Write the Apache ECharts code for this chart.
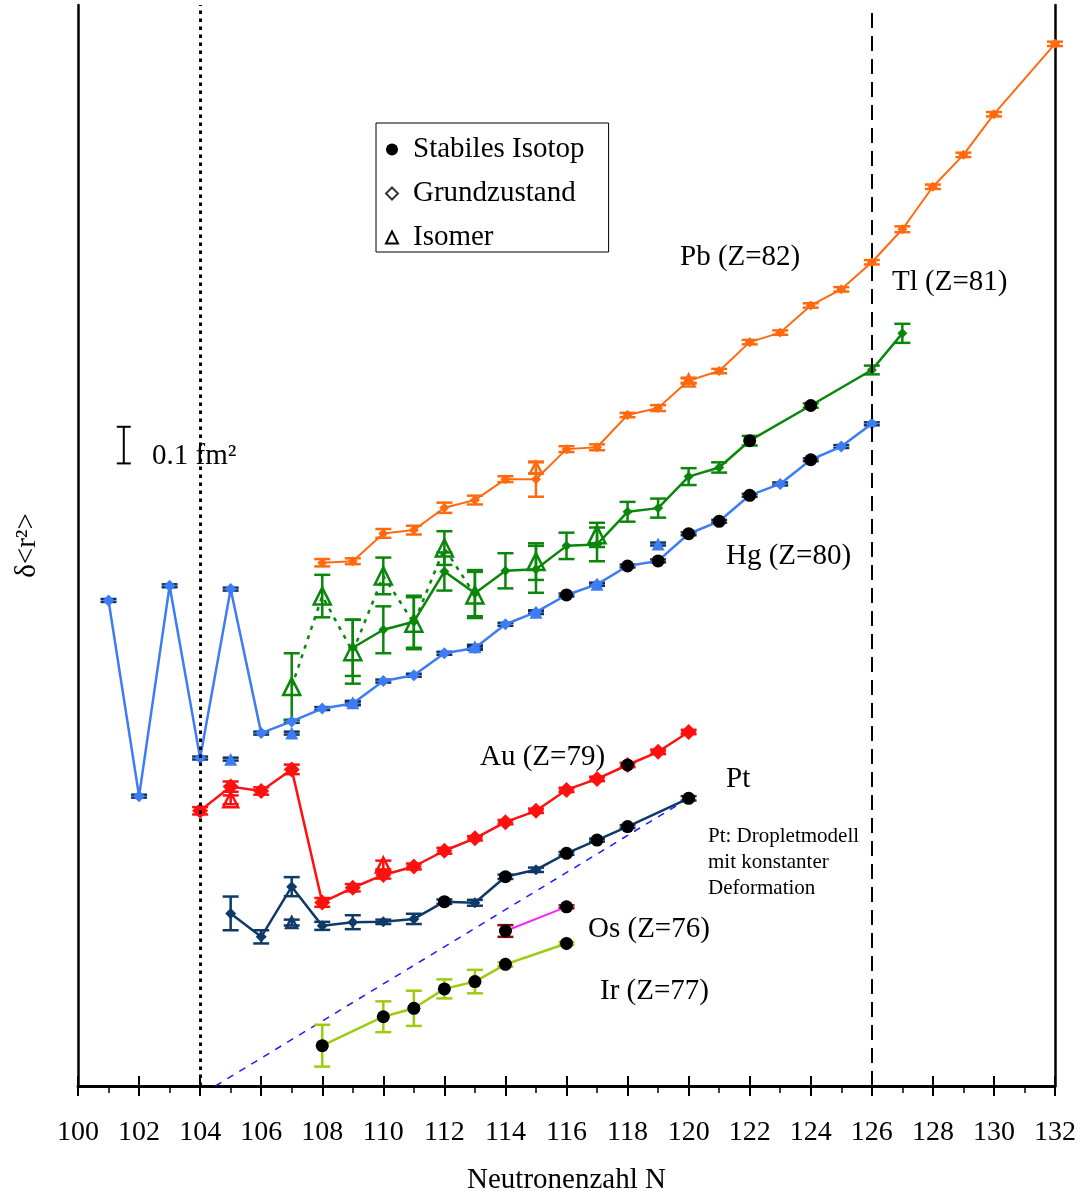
<!DOCTYPE html>
<html>
<head>
<meta charset="utf-8">
<script src="https://cdn.jsdelivr.net/npm/echarts@6/dist/echarts.min.js"></script>
<style>
  html, body { margin: 0; padding: 0; background: #fff; }
  #chart { width: 1080px; height: 1191px; }
</style>
</head>
<body>
<div id="chart"></div>
<script>
// Isotope shifts of the mean square charge radius, delta<r^2> in fm^2
// (each chain shifted by an arbitrary offset), versus neutron number N.

// ---- Hg (Z=80) ----
const hgN   = [101, 102, 103, 104, 105, 106, 107, 108, 109, 110, 111, 112, 113, 114, 115, 116, 117, 118, 119, 120, 121, 122, 123, 124, 125, 126];
const hgV   = [1.325, 0.791, 1.365, 0.895, 1.356, 0.963, 0.995, 1.030, 1.044, 1.105, 1.121, 1.181, 1.195, 1.260, 1.293, 1.340, 1.369, 1.419, 1.433, 1.507, 1.541, 1.612, 1.643, 1.709, 1.745, 1.807];
const hgErr = [0.004, 0.004, 0.004, 0.004, 0.004, 0.004, 0.004, 0.004, 0.005, 0.004, 0.004, 0.004, 0.005, 0.004, 0.005, 0.004, 0.004, 0.004, 0.004, 0.004, 0.004, 0.004, 0.004, 0.004, 0.004, 0.004];
const hgStable = [116, 118, 119, 120, 121, 122, 124];
const hgIsoN   = [105, 107, 109, 113, 115, 117, 119];
const hgIsoV   = [0.892, 0.963, 1.046, 1.199, 1.293, 1.369, 1.479];
const hgIsoErr = [0.004, 0.004, 0.005, 0.005, 0.004, 0.004, 0.004];

// ---- Pb (Z=82) ----
const pbN   = [108, 109, 110, 111, 112, 113, 114, 115, 116, 117, 118, 119, 120, 121, 122, 123, 124, 125, 126, 127, 128, 129, 130, 132];
const pbV   = [1.428, 1.432, 1.508, 1.517, 1.578, 1.599, 1.656, 1.656, 1.738, 1.743, 1.831, 1.850, 1.925, 1.951, 2.030, 2.056, 2.130, 2.174, 2.248, 2.338, 2.454, 2.541, 2.652, 2.844];
const pbErr = [0.010, 0.008, 0.012, 0.012, 0.014, 0.012, 0.008, 0.048, 0.008, 0.008, 0.006, 0.008, 0.008, 0.006, 0.006, 0.006, 0.006, 0.006, 0.006, 0.008, 0.006, 0.006, 0.006, 0.006];
const pbIsoN   = [115, 120];
const pbIsoV   = [1.687, 1.925];
const pbIsoErr = [0.015, 0.006];

// ---- Tl (Z=81) ----
const tlN   = [109, 110, 111, 112, 113, 114, 115, 116, 117, 118, 119, 120, 121, 122, 124, 126, 127];
const tlV   = [1.196, 1.245, 1.267, 1.404, 1.345, 1.406, 1.410, 1.474, 1.478, 1.567, 1.577, 1.663, 1.688, 1.761, 1.857, 1.954, 2.054];
const tlErr = [0.077, 0.064, 0.071, 0.052, 0.063, 0.048, 0.064, 0.036, 0.046, 0.027, 0.026, 0.023, 0.014, 0.013, 0.006, 0.012, 0.026];
const tlStable = [122, 124];
// isomers joined by the dotted line
const tlIsoN   = [107, 108, 109, 110, 111, 112, 113];
const tlIsoV   = [1.090, 1.337, 1.185, 1.392, 1.263, 1.468, 1.340];
const tlIsoErr = [0.091, 0.058, 0.087, 0.050, 0.071, 0.046, 0.063];
// further isomers drawn without a line
const tlIsoN2   = [115, 117];
const tlIsoV2   = [1.431, 1.504];
const tlIsoErr2 = [0.050, 0.033];

// ---- Au (Z=79) ----
const auN   = [104, 105, 106, 107, 108, 109, 110, 111, 112, 113, 114, 115, 116, 117, 118, 119, 120];
const auV   = [0.751, 0.817, 0.805, 0.864, 0.501, 0.541, 0.576, 0.599, 0.642, 0.676, 0.720, 0.751, 0.808, 0.838, 0.876, 0.912, 0.966];
const auErr = [0.010, 0.014, 0.010, 0.013, 0.012, 0.010, 0.010, 0.008, 0.008, 0.006, 0.006, 0.006, 0.006, 0.006, 0.006, 0.006, 0.006];
const auStable = [118];
const auIsoN   = [105, 110];
const auIsoV   = [0.781, 0.603];
const auIsoErr = [0.012, 0.012];

// ---- Pt (Z=78) ----
const ptN   = [105, 106, 107, 108, 109, 110, 111, 112, 113, 114, 115, 116, 117, 118, 120];
const ptV   = [0.471, 0.407, 0.544, 0.437, 0.447, 0.448, 0.456, 0.503, 0.500, 0.571, 0.590, 0.635, 0.671, 0.708, 0.785];
const ptErr = [0.046, 0.018, 0.026, 0.011, 0.019, 0.006, 0.014, 0.006, 0.008, 0.006, 0.006, 0.004, 0.004, 0.004, 0.006];
const ptStable = [112, 114, 116, 117, 118, 120];
const ptIsoN   = [107];
const ptIsoV   = [0.446];
const ptIsoErr = [0.008];
// droplet model with constant deformation (end points of the line)
const dropN = [104.5, 120];
const dropV = [0.000, 0.785];

// ---- Os (Z=76) ----
const osN   = [114, 116];
const osV   = [0.423, 0.489];
const osErr = [0.016, 0.004];
const osStable = [114, 116];

// ---- Ir (Z=77) ----
const irN   = [108, 110, 111, 112, 113, 114, 116];
const irV   = [0.110, 0.189, 0.212, 0.265, 0.285, 0.332, 0.389];
const irErr = [0.057, 0.042, 0.048, 0.026, 0.032, 0.006, 0.004];
const irStable = [108, 110, 111, 112, 113, 114, 116];

// ---- scale bar: 0.1 fm^2 ----
const barN = [101.5];
const barV = [1.749];
const barSize = [0.1];

// ---- axis ----
const xMin = 100, xMax = 132, xStep = 2;
const yMin = 0, yMax = 2.95;

const GRID = { left: 78, right: 25, top: 5, bottom: 105 };
const PLOT_H = 1191 - GRID.top - GRID.bottom;

const SERIF = '"Liberation Serif", "Times New Roman", serif';

const C = {
  hg: '#3d7cf5', hgErr: '#0f335f',
  pb: '#ff6a10',
  tl: '#0a870a',
  au: '#ff1010',
  pt: '#0f3a68',
  os: '#ff22ff', osErr: '#8a1010',
  ir: '#9ccc10',
  drop: '#1a1aff'
};

function pairs(nArr, vArr) { return nArr.map((n, i) => [n, vArr[i]]); }

function errorBars(nArr, vArr, eArr, color, half, width, z) {
  return {
    type: 'custom',
    silent: true,
    z: z,
    encode: { x: 0, y: 1 },
    data: nArr.map((n, i) => [n, vArr[i], eArr[i]]),
    renderItem: function (params, api) {
      const x = api.value(0), y = api.value(1), e = api.value(2);
      const t = api.coord([x, y + e]);
      const b = api.coord([x, y - e]);
      const style = { stroke: color, lineWidth: width };
      return {
        type: 'group',
        children: [
          { type: 'line', shape: { x1: t[0], y1: t[1], x2: b[0], y2: b[1] }, style: style },
          { type: 'line', shape: { x1: t[0] - half, y1: t[1], x2: t[0] + half, y2: t[1] }, style: style },
          { type: 'line', shape: { x1: b[0] - half, y1: b[1], x2: b[0] + half, y2: b[1] }, style: style }
        ]
      };
    }
  };
}

function groundLine(nArr, vArr, color, size, width, z) {
  return {
    type: 'line',
    silent: true,
    z: z,
    data: pairs(nArr, vArr),
    symbol: 'diamond',
    symbolSize: size,
    showAllSymbol: true,
    itemStyle: { color: color, opacity: 1 },
    lineStyle: { color: color, width: width },
    emphasis: { disabled: true }
  };
}

function stablePoints() {
  const sets = [[hgN, hgV, hgStable], [tlN, tlV, tlStable], [auN, auV, auStable],
                [ptN, ptV, ptStable], [osN, osV, osStable], [irN, irV, irStable]];
  const out = [];
  sets.forEach(([nArr, vArr, st]) => {
    st.forEach(n => { out.push([n, vArr[nArr.indexOf(n)]]); });
  });
  return out;
}

function isoItems(nArr, vArr, color, size, filled) {
  return nArr.map((n, i) => ({
    value: [n, vArr[i]],
    symbolSize: size,
    itemStyle: filled
      ? { color: color, opacity: 1 }
      : { color: 'rgba(255,255,255,0)', borderColor: color, borderWidth: 2.5, opacity: 1 }
  }));
}

const isomerData = []
  .concat(isoItems(hgIsoN, hgIsoV, C.hg, 13, true))
  .concat(isoItems(pbIsoN, pbIsoV, C.pb, 12, false))
  .concat(isoItems(tlIsoN, tlIsoV, C.tl, 17, false))
  .concat(isoItems(tlIsoN2, tlIsoV2, C.tl, 17, false))
  .concat(isoItems(auIsoN, auIsoV, C.au, 15, false))
  .concat(isoItems(ptIsoN, ptIsoV, C.pt, 11, false));

const series = [
  // droplet model + shell closures
  {
    type: 'line', silent: true, z: 1,
    data: pairs(dropN, dropV),
    symbol: 'none',
    lineStyle: { color: C.drop, width: 1.5, type: [7, 7] },
    markLine: {
      silent: true, symbol: ['none', 'none'], label: { show: false },
      data: [
        { xAxis: 104, lineStyle: { color: '#000', width: 3, type: [3.5, 4.5] } },
        { xAxis: 126, lineStyle: { color: '#000', width: 2, type: [15, 8] } }
      ]
    }
  },
  // error bars
  errorBars(hgN, hgV, hgErr, C.hgErr, 8, 2.5, 2),
  errorBars(hgIsoN, hgIsoV, hgIsoErr, C.hgErr, 8, 2.5, 2),
  errorBars(pbN, pbV, pbErr, C.pb, 8, 2.5, 2),
  errorBars(pbIsoN, pbIsoV, pbIsoErr, C.pb, 8, 2.5, 2),
  errorBars(tlN, tlV, tlErr, C.tl, 8, 2.5, 2),
  errorBars(tlIsoN, tlIsoV, tlIsoErr, C.tl, 8, 2.5, 2),
  errorBars(tlIsoN2, tlIsoV2, tlIsoErr2, C.tl, 8, 2.5, 2),
  errorBars(auN, auV, auErr, C.au, 8, 2.5, 2),
  errorBars(auIsoN, auIsoV, auIsoErr, C.au, 8, 2.5, 2),
  errorBars(ptN, ptV, ptErr, C.pt, 8, 2.5, 2),
  errorBars(ptIsoN, ptIsoV, ptIsoErr, C.pt, 8, 2.5, 2),
  errorBars(osN, osV, osErr, C.osErr, 8, 2.5, 2),
  errorBars(irN, irV, irErr, C.ir, 8, 2.5, 2),
  errorBars(barN, barV, barSize.map(s => s / 2), '#000', 7, 2, 2),
  // ground-state chains
  groundLine(hgN, hgV, C.hg, 12, 2.5, 3),
  groundLine(pbN, pbV, C.pb, 10, 2, 3),
  groundLine(tlN, tlV, C.tl, 10, 2.5, 3),
  groundLine(auN, auV, C.au, 16, 2.5, 3),
  groundLine(ptN, ptV, C.pt, 11, 2.5, 3),
  groundLine(osN, osV, C.os, 13, 2, 3),
  groundLine(irN, irV, C.ir, 14, 2.5, 3),
  // Tl isomer chain (dotted)
  {
    type: 'line', silent: true, z: 3,
    data: pairs(tlIsoN, tlIsoV),
    symbol: 'none',
    lineStyle: { color: C.tl, width: 2.5, type: [4, 6] }
  },
  // marker classes shown in the key
  {
    name: 'Isomer', type: 'scatter', silent: true, z: 4,
    symbol: 'triangle',
    itemStyle: { opacity: 1 },
    data: isomerData
  },
  {
    name: 'Grundzustand', type: 'scatter', silent: true, z: 4,
    symbol: 'diamond', data: []
  },
  {
    name: 'Stabiles Isotop', type: 'scatter', silent: true, z: 5,
    symbol: 'circle', symbolSize: 13,
    itemStyle: { color: '#000', opacity: 1 },
    data: stablePoints()
  }
];

const textStyleBase = { fontFamily: SERIF, fill: '#000' };
function label(text, x, y, size) {
  return {
    type: 'text', x: x, y: y, silent: true, z: 10,
    style: Object.assign({ text: text, fontSize: size, verticalAlign: 'middle', align: 'left' }, textStyleBase)
  };
}

const option = {
  animation: false,
  backgroundColor: '#fff',
  grid: { left: GRID.left, right: GRID.right, top: GRID.top, bottom: GRID.bottom, containLabel: false, outerBoundsMode: 'none' },
  legend: {
    orient: 'vertical',
    left: 376, top: 123,
    selectedMode: false,
    backgroundColor: '#fff',
    borderColor: '#000', borderWidth: 1,
    padding: [12, 24, 0, 9],
    itemGap: 15,
    itemWidth: 12, itemHeight: 12,
    textStyle: { fontFamily: SERIF, fontSize: 29, color: '#000', lineHeight: 26, padding: [0, 0, 0, 10] },
    data: [
      { name: 'Stabiles Isotop', icon: 'circle', itemStyle: { color: '#000' } },
      { name: 'Grundzustand', icon: 'diamond', itemStyle: { color: '#fff', borderColor: '#000', borderWidth: 2 } },
      { name: 'Isomer', icon: 'triangle', itemStyle: { color: '#fff', borderColor: '#000', borderWidth: 2 } }
    ]
  },
  xAxis: [
    {
      type: 'value', min: xMin, max: xMax, interval: xStep, position: 'bottom',
      name: 'Neutronenzahl N', nameLocation: 'middle', nameGap: 80,
      nameTextStyle: { fontFamily: SERIF, fontSize: 29, color: '#000' },
      axisLine: { show: true, onZero: false, lineStyle: { color: '#000', width: 3 } },
      axisTick: { show: true, inside: false, length: 10, lineStyle: { color: '#000', width: 2 } },
      minorTick: { show: true, splitNumber: 2, length: 7, lineStyle: { color: '#000', width: 1.5 } },
      axisLabel: { fontFamily: SERIF, fontSize: 28, color: '#000', margin: 33, showMinLabel: true, showMaxLabel: true },
      splitLine: { show: false }, minorSplitLine: { show: false }
    },
    {
      // inner halves of the major ticks: a top axis moved down onto the bottom edge
      type: 'value', min: xMin, max: xMax, interval: xStep, position: 'top', offset: -PLOT_H,
      axisLine: { show: false, onZero: false },
      axisTick: { show: true, inside: false, length: 10, lineStyle: { color: '#000', width: 2 } },
      axisLabel: { show: false },
      splitLine: { show: false }
    }
  ],
  yAxis: [
    {
      type: 'value', min: yMin, max: yMax, position: 'left',
      name: 'δ<r²>', nameLocation: 'middle', nameRotate: 90, nameGap: 36,
      nameTextStyle: { fontFamily: SERIF, fontSize: 29, color: '#000' },
      axisLine: { show: true, onZero: false, lineStyle: { color: '#000', width: 2.5 } },
      axisTick: { show: false }, axisLabel: { show: false }, splitLine: { show: false }
    },
    {
      type: 'value', min: yMin, max: yMax, position: 'right',
      axisLine: { show: true, onZero: false, lineStyle: { color: '#000', width: 2.5 } },
      axisTick: { show: false }, axisLabel: { show: false }, splitLine: { show: false }
    }
  ],
  graphic: [
    label('0.1 fm²', 152, 456, 29),
    label('Pb (Z=82)', 680, 257, 29),
    label('Tl (Z=81)', 892, 282, 29),
    label('Hg (Z=80)', 726, 556, 29),
    label('Au (Z=79)', 480, 757, 29),
    label('Pt', 726, 779, 29),
    label('Pt: Dropletmodell', 708, 836, 21),
    label('mit konstanter', 708, 862, 21),
    label('Deformation', 708, 888, 21),
    label('Os (Z=76)', 588, 929, 29),
    label('Ir (Z=77)', 600, 991, 29)
  ],
  series: series
};

const chart = echarts.init(document.getElementById('chart'), null, { renderer: 'canvas' });
chart.setOption(option);
</script>
</body>
</html>
